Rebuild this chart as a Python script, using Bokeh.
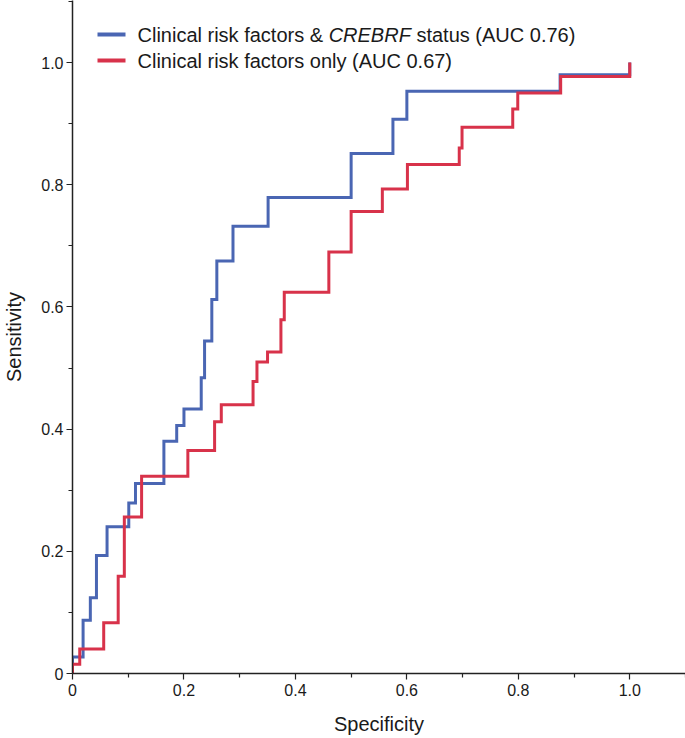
import numpy as np
from bokeh.plotting import figure
from bokeh.models import Range1d, FixedTicker, CustomJSTickFormatter, Label, BoxAnnotation
from bokeh.embed import file_html
from bokeh.resources import INLINE

# ---- data ----
# specificity at which each step occurs, and sensitivity after the step
blue_spec = [0.0, 0.019, 0.032, 0.043, 0.062, 0.101, 0.113, 0.164, 0.187, 0.200,
             0.231, 0.237, 0.250, 0.259, 0.288, 0.351, 0.500, 0.575, 0.600, 0.875, 1.0]
blue_sens = [0.027, 0.087, 0.124, 0.193, 0.240, 0.279, 0.311, 0.380, 0.406, 0.433,
             0.484, 0.544, 0.612, 0.675, 0.732, 0.779, 0.851, 0.907, 0.953, 0.980, 1.0]

red_spec = [0.0, 0.013, 0.056, 0.082, 0.093, 0.124, 0.207, 0.255, 0.267, 0.324,
            0.331, 0.350, 0.374, 0.380, 0.460, 0.500, 0.556, 0.601, 0.694, 0.699,
            0.790, 0.799, 0.876, 1.0]
red_sens = [0.015, 0.040, 0.083, 0.159, 0.256, 0.323, 0.365, 0.412, 0.440, 0.478,
            0.510, 0.526, 0.579, 0.624, 0.690, 0.756, 0.793, 0.833, 0.860, 0.894,
            0.924, 0.950, 0.977, 1.0]

blue_label = ["Clinical risk factors & ", "CREBRF", "status (AUC 0.76)"]
red_label = "Clinical risk factors only (AUC 0.67)"

major_ticks = [0.0, 0.2, 0.4, 0.6, 0.8, 1.0]
minor_ticks = [0.1, 0.3, 0.5, 0.7, 0.9, 1.1]

BLUE = "#4a66b3"
RED = "#d8324a"
FONT = "Liberation Sans"
TXT = "#1a1a1a"

p = figure(width=685, height=738, output_backend="svg", toolbar_location=None,
           x_range=Range1d(0, 1.1), y_range=Range1d(0, 1.1015),
           min_border_left=72, min_border_bottom=65, min_border_top=0, min_border_right=0)
p.outline_line_color = None
p.grid.visible = False
p.background_fill_color = "white"

fmt = CustomJSTickFormatter(code="return tick == 0 ? '0' : tick.toFixed(1);")
for ax in (p.xaxis[0], p.yaxis[0]):
    ax.ticker = FixedTicker(ticks=major_ticks, minor_ticks=minor_ticks)
    ax.formatter = fmt
    ax.major_tick_in = 0
    ax.major_tick_out = 6
    ax.minor_tick_in = 0
    ax.minor_tick_out = 4
    ax.axis_line_color = "#222222"
    ax.axis_line_width = 1.5
    ax.major_tick_line_color = "#222222"
    ax.minor_tick_line_color = "#222222"
    ax.major_tick_line_width = 1.2
    ax.minor_tick_line_width = 1.2
    ax.major_label_text_font = FONT
    ax.major_label_text_font_size = "16px"
    ax.major_label_text_color = TXT
    ax.axis_label_text_font = FONT
    ax.axis_label_text_font_size = "20px"
    ax.axis_label_text_font_style = "normal"
    ax.axis_label_text_color = TXT

p.xaxis.axis_label = "Specificity"
p.yaxis.axis_label = "Sensitivity"
p.xaxis.major_label_standoff = 4
p.yaxis.major_label_standoff = 3
p.xaxis.axis_label_standoff = 14
p.yaxis.axis_label_standoff = 13

bx = [0.0] + blue_spec
by = [0.0] + blue_sens
rx = [0.0] + red_spec
ry = [0.0] + red_sens
p.step(bx, by, mode="after", line_color=BLUE, line_width=3, line_join="miter")
p.step(rx, ry, mode="after", line_color=RED, line_width=3, line_join="miter")

# ---- legend (screen units, relative to frame) ----
row1 = 639
row2 = 613
for row, col in ((row1, BLUE), (row2, RED)):
    p.add_layout(BoxAnnotation(left=25, right=53, bottom=row - 2, top=row + 2,
                               left_units="screen", right_units="screen",
                               top_units="screen", bottom_units="screen",
                               fill_color=col, fill_alpha=1.0, line_alpha=0))

tx = 65
fs = 20
x2 = tx + 9557 * fs / 1000.0
x3 = x2 + 4111 * fs / 1000.0 + 278 * fs / 1000.0
for txt, x, style in ((blue_label[0], tx, "normal"), (blue_label[1], x2, "italic"),
                      (blue_label[2], x3, "normal")):
    p.add_layout(Label(x=x, y=row1, x_units="screen", y_units="screen", text=txt,
                       text_font=FONT, text_font_size=f"{fs}px", text_font_style=style,
                       text_color=TXT, text_baseline="middle", text_align="left"))
p.add_layout(Label(x=tx, y=row2, x_units="screen", y_units="screen", text=red_label,
                   text_font=FONT, text_font_size=f"{fs}px", text_color=TXT,
                   text_baseline="middle", text_align="left"))

open("out.html", "w").write(file_html(p, INLINE))
